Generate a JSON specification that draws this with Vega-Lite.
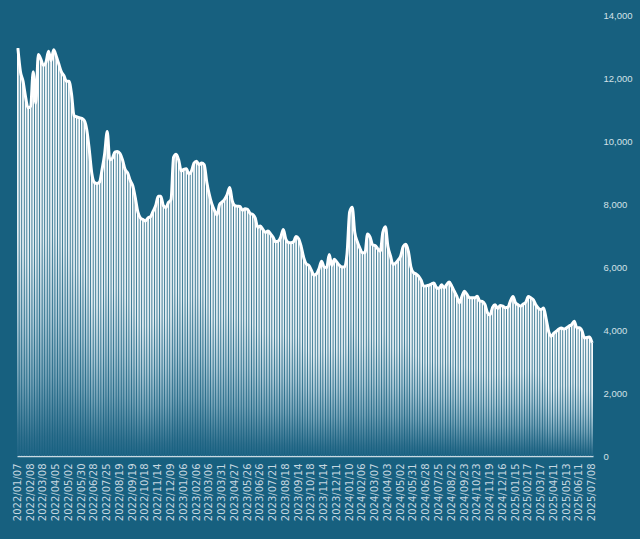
{
  "$schema": "https://vega.github.io/schema/vega-lite/v6.json",
  "width": 576,
  "height": 441,
  "autosize": "none",
  "padding": {"left": 17, "top": 15, "right": 47, "bottom": 83},
  "background": "#17607f",
  "config": {"view": {"stroke": null}, "axis": {"grid": false}},
  "data": {"values": [
    {"d":"2022/01/07","v":12950},{"d":"2022/01/13","v":12200},{"d":"2022/01/19","v":11900},{"d":"2022/01/25","v":11400},{"d":"2022/01/28","v":11050},
    {"d":"2022/02/08","v":11100},{"d":"2022/02/14","v":12200},{"d":"2022/02/18","v":11200},{"d":"2022/02/24","v":12750},{"d":"2022/03/02","v":12600},
    {"d":"2022/03/08","v":12400},{"d":"2022/03/14","v":12500},{"d":"2022/03/18","v":12850},{"d":"2022/03/24","v":12550},{"d":"2022/03/30","v":12900},
    {"d":"2022/04/05","v":12700},{"d":"2022/04/11","v":12450},{"d":"2022/04/15","v":12200},{"d":"2022/04/21","v":12080},{"d":"2022/04/27","v":11900},
    {"d":"2022/05/02","v":11900},{"d":"2022/05/09","v":11500},{"d":"2022/05/13","v":10800},{"d":"2022/05/19","v":10770},{"d":"2022/05/25","v":10740},
    {"d":"2022/05/30","v":10720},{"d":"2022/06/06","v":10650},{"d":"2022/06/10","v":10350},{"d":"2022/06/16","v":9700},{"d":"2022/06/22","v":8950},
    {"d":"2022/06/28","v":8680},{"d":"2022/07/04","v":8650},{"d":"2022/07/08","v":8700},{"d":"2022/07/14","v":9100},{"d":"2022/07/20","v":9600},
    {"d":"2022/07/25","v":10300},{"d":"2022/07/29","v":9400},{"d":"2022/08/04","v":9450},{"d":"2022/08/10","v":9650},{"d":"2022/08/16","v":9670},
    {"d":"2022/08/19","v":9600},{"d":"2022/08/25","v":9400},{"d":"2022/08/31","v":9100},{"d":"2022/09/06","v":8990},{"d":"2022/09/13","v":8750},
    {"d":"2022/09/19","v":8580},{"d":"2022/09/23","v":8200},{"d":"2022/09/29","v":7750},{"d":"2022/10/11","v":7560},{"d":"2022/10/14","v":7510},
    {"d":"2022/10/18","v":7460},{"d":"2022/10/24","v":7560},{"d":"2022/10/28","v":7600},{"d":"2022/11/03","v":7770},{"d":"2022/11/09","v":7950},
    {"d":"2022/11/14","v":8250},{"d":"2022/11/18","v":8250},{"d":"2022/11/24","v":7950},{"d":"2022/11/30","v":7890},{"d":"2022/12/05","v":8050},
    {"d":"2022/12/09","v":8140},{"d":"2022/12/15","v":9480},{"d":"2022/12/21","v":9580},{"d":"2022/12/27","v":9400},{"d":"2022/12/30","v":9050},
    {"d":"2023/01/06","v":9100},{"d":"2023/01/12","v":9120},{"d":"2023/01/18","v":8950},{"d":"2023/01/24","v":9040},{"d":"2023/01/31","v":9300},
    {"d":"2023/02/06","v":9360},{"d":"2023/02/10","v":9250},{"d":"2023/02/16","v":9300},{"d":"2023/02/22","v":9250},{"d":"2023/02/28","v":8700},
    {"d":"2023/03/06","v":8300},{"d":"2023/03/10","v":8000},{"d":"2023/03/16","v":7800},{"d":"2023/03/22","v":7650},{"d":"2023/03/27","v":7980},
    {"d":"2023/03/31","v":8060},{"d":"2023/04/06","v":8150},{"d":"2023/04/12","v":8300},{"d":"2023/04/18","v":8520},{"d":"2023/04/21","v":8100},
    {"d":"2023/04/27","v":7950},{"d":"2023/05/04","v":7930},{"d":"2023/05/10","v":7920},{"d":"2023/05/16","v":7800},{"d":"2023/05/22","v":7850},
    {"d":"2023/05/26","v":7830},{"d":"2023/06/01","v":7700},{"d":"2023/06/07","v":7670},{"d":"2023/06/13","v":7550},{"d":"2023/06/19","v":7260},
    {"d":"2023/06/26","v":7300},{"d":"2023/06/30","v":7190},{"d":"2023/07/06","v":7100},{"d":"2023/07/12","v":7140},{"d":"2023/07/17","v":7050},
    {"d":"2023/07/21","v":6940},{"d":"2023/07/27","v":6800},{"d":"2023/08/02","v":6820},{"d":"2023/08/08","v":6950},{"d":"2023/08/14","v":7190},
    {"d":"2023/08/18","v":6880},{"d":"2023/08/24","v":6780},{"d":"2023/08/30","v":6770},{"d":"2023/09/05","v":6800},{"d":"2023/09/11","v":6970},
    {"d":"2023/09/14","v":6900},{"d":"2023/09/20","v":6650},{"d":"2023/09/26","v":6300},{"d":"2023/10/09","v":6100},{"d":"2023/10/12","v":6050},
    {"d":"2023/10/18","v":5900},{"d":"2023/10/24","v":5740},{"d":"2023/10/30","v":5780},{"d":"2023/11/03","v":5950},{"d":"2023/11/09","v":6180},
    {"d":"2023/11/14","v":6000},{"d":"2023/11/20","v":5980},{"d":"2023/11/24","v":6400},{"d":"2023/11/30","v":6050},{"d":"2023/12/06","v":6250},
    {"d":"2023/12/11","v":6150},{"d":"2023/12/15","v":6050},{"d":"2023/12/21","v":6000},{"d":"2023/12/27","v":6000},{"d":"2024/01/04","v":6450},
    {"d":"2024/01/10","v":7750},{"d":"2024/01/16","v":7900},{"d":"2024/01/22","v":7100},{"d":"2024/01/26","v":6800},{"d":"2024/02/01","v":6600},
    {"d":"2024/02/06","v":6450},{"d":"2024/02/19","v":6450},{"d":"2024/02/22","v":7050},{"d":"2024/02/26","v":6950},{"d":"2024/02/29","v":6700},
    {"d":"2024/03/07","v":6680},{"d":"2024/03/13","v":6580},{"d":"2024/03/19","v":6500},{"d":"2024/03/25","v":7100},{"d":"2024/03/29","v":7280},
    {"d":"2024/04/03","v":6650},{"d":"2024/04/09","v":6350},{"d":"2024/04/15","v":6080},{"d":"2024/04/19","v":6120},{"d":"2024/04/25","v":6220},
    {"d":"2024/05/02","v":6350},{"d":"2024/05/09","v":6650},{"d":"2024/05/15","v":6720},{"d":"2024/05/21","v":6500},{"d":"2024/05/27","v":6000},
    {"d":"2024/05/31","v":5820},{"d":"2024/06/06","v":5780},{"d":"2024/06/12","v":5710},{"d":"2024/06/18","v":5580},{"d":"2024/06/24","v":5390},
    {"d":"2024/06/28","v":5400},{"d":"2024/07/04","v":5420},{"d":"2024/07/10","v":5460},{"d":"2024/07/16","v":5490},{"d":"2024/07/22","v":5350},
    {"d":"2024/07/25","v":5320},{"d":"2024/07/31","v":5440},{"d":"2024/08/06","v":5340},{"d":"2024/08/12","v":5440},{"d":"2024/08/16","v":5520},
    {"d":"2024/08/22","v":5390},{"d":"2024/08/28","v":5230},{"d":"2024/09/03","v":5070},{"d":"2024/09/09","v":4860},{"d":"2024/09/16","v":5070},
    {"d":"2024/09/23","v":5230},{"d":"2024/09/27","v":5130},{"d":"2024/10/09","v":5020},{"d":"2024/10/14","v":5020},{"d":"2024/10/17","v":5020},
    {"d":"2024/10/23","v":5070},{"d":"2024/10/29","v":4920},{"d":"2024/11/04","v":4910},{"d":"2024/11/08","v":4810},{"d":"2024/11/14","v":4550},
    {"d":"2024/11/19","v":4480},{"d":"2024/11/25","v":4720},{"d":"2024/11/29","v":4800},{"d":"2024/12/05","v":4680},{"d":"2024/12/11","v":4780},
    {"d":"2024/12/16","v":4760},{"d":"2024/12/20","v":4710},{"d":"2024/12/26","v":4720},{"d":"2025/01/02","v":4920},{"d":"2025/01/09","v":5060},
    {"d":"2025/01/15","v":4860},{"d":"2025/01/21","v":4800},{"d":"2025/01/27","v":4760},{"d":"2025/02/06","v":4820},{"d":"2025/02/11","v":4880},
    {"d":"2025/02/17","v":5060},{"d":"2025/02/21","v":5020},{"d":"2025/02/27","v":4960},{"d":"2025/03/05","v":4790},{"d":"2025/03/11","v":4690},
    {"d":"2025/03/17","v":4650},{"d":"2025/03/21","v":4700},{"d":"2025/03/27","v":4350},{"d":"2025/04/02","v":3950},{"d":"2025/04/07","v":3800},
    {"d":"2025/04/11","v":3900},{"d":"2025/04/17","v":3960},{"d":"2025/04/23","v":4030},{"d":"2025/04/29","v":4060},{"d":"2025/05/07","v":4030},
    {"d":"2025/05/13","v":4070},{"d":"2025/05/19","v":4130},{"d":"2025/05/23","v":4170},{"d":"2025/05/29","v":4280},{"d":"2025/06/05","v":4070},
    {"d":"2025/06/11","v":4070},{"d":"2025/06/17","v":3980},{"d":"2025/06/23","v":3750},{"d":"2025/06/27","v":3760},{"d":"2025/07/03","v":3780},
    {"d":"2025/07/08","v":3590}
  ]},
  "encoding": {
    "x": {
      "field": "d", "type": "ordinal", "sort": null,
      "scale": {"paddingInner": 0.3, "paddingOuter": 0},
      "axis": {
        "title": null,
        "values": ["2022/01/07","2022/02/08","2022/03/08","2022/04/05","2022/05/02","2022/05/30","2022/06/28","2022/07/25","2022/08/19","2022/09/19","2022/10/18","2022/11/14","2022/12/09","2023/01/06","2023/02/06","2023/03/06","2023/03/31","2023/04/27","2023/05/26","2023/06/26","2023/07/21","2023/08/18","2023/09/14","2023/10/18","2023/11/14","2023/12/11","2024/01/10","2024/02/06","2024/03/07","2024/04/03","2024/05/02","2024/05/31","2024/06/28","2024/07/25","2024/08/22","2024/09/23","2024/10/23","2024/11/19","2024/12/16","2025/01/15","2025/02/17","2025/03/17","2025/04/11","2025/05/13","2025/06/11","2025/07/08"],
        "labelAngle": -90,
        "labelOverlap": false,
        "labelFont": "DejaVu Sans",
        "labelFontSize": 10,
        "labelColor": "#c6d7e0",
        "labelPadding": 7,
        "ticks": false,
        "tickSize": 0,
        "domainColor": "#c9d9e1",
        "domainWidth": 1.5
      }
    },
    "y": {
      "field": "v", "type": "quantitative",
      "scale": {"domain": [0, 14000], "nice": false},
      "axis": {
        "title": null,
        "orient": "right",
        "values": [0, 2000, 4000, 6000, 8000, 10000, 12000, 14000],
        "format": ",.0f",
        "domain": false,
        "ticks": false,
        "tickSize": 0,
        "labelPadding": 10,
        "labelFont": "Liberation Sans",
        "labelFontSize": 9.5,
        "labelColor": "#d3e0e7"
      }
    }
  },
  "layer": [
    {
      "mark": {
        "type": "bar",
        "fill": {
          "gradient": "linear", "x1": 0, "y1": 0, "x2": 0, "y2": 1,
          "stops": [
            {"offset": 0, "color": "#ffffff"},
            {"offset": 0.45, "color": "#e2edf2"},
            {"offset": 0.65, "color": "#aac8d6"},
            {"offset": 0.8, "color": "#74a2b7"},
            {"offset": 0.95, "color": "#2f6f8d"},
            {"offset": 1, "color": "#1d6485"}
          ]
        }
      }
    },
    {
      "mark": {"type": "line", "color": "#ffffff", "strokeWidth": 3, "interpolate": "monotone"}
    }
  ]
}
